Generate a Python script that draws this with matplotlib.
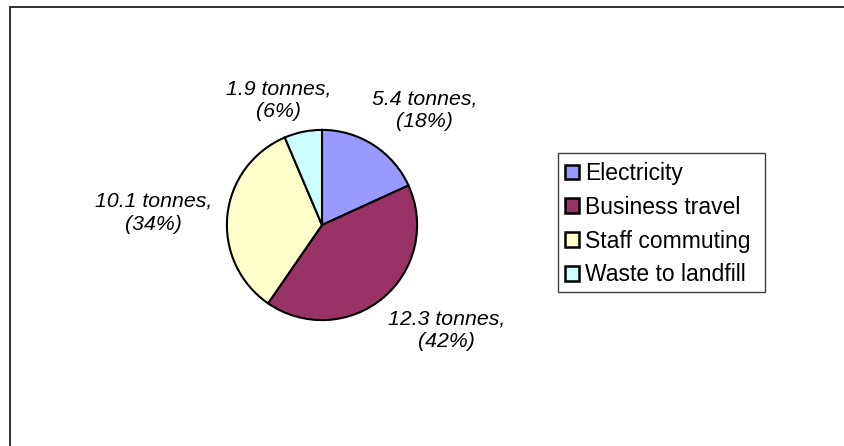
import matplotlib
matplotlib.use('Agg')
import matplotlib.pyplot as plt
from matplotlib.patches import Rectangle

# dades (tones de CO2)
categories = ['Electricity', 'Business travel', 'Staff commuting', 'Waste to landfill']
tonnes = [5.4, 12.3, 10.1, 1.9]
percents = [18, 42, 34, 6]
colors = ['#9999FF', '#993366', '#FFFFCC', '#CCFFFF']

# posicio de les etiquetes (unitats del radi del pastis)
label_pos = [(1.08, 1.21), (1.31, -1.11), (-1.77, 0.13), (-0.46, 1.31)]

W, H = 844, 446
fig = plt.figure(figsize=(W / 100, H / 100), dpi=100)
plt.rcParams['font.family'] = ['Liberation Sans', 'DejaVu Sans']

def px_box(x0, y0, x1, y1, **kw):
    # rectangle en pixels (origen a dalt a l'esquerra)
    return Rectangle((x0 / W, 1 - y1 / H), (x1 - x0) / W, (y1 - y0) / H,
                     transform=fig.transFigure, fill=False, **kw)

# marc del grafic (talla per la dreta i per baix)
fig.patches.append(px_box(9.5, 7, 900, 500, edgecolor='#202020', linewidth=1.3))
# marc de la llegenda
fig.patches.append(px_box(558, 153, 765, 292, edgecolor='#404040', linewidth=1.0))

cx, cy, r = 322, 225, 97
ax = fig.add_axes([(cx - r) / W, 1 - (cy + r) / H, 2 * r / W, 2 * r / H])
wedges, _ = ax.pie(tonnes, colors=colors, startangle=90, counterclock=False,
                   radius=1, wedgeprops=dict(edgecolor='black', linewidth=1.5))
ax.set_xlim(-1.02, 1.02)
ax.set_ylim(-1.02, 1.02)
ax.set_aspect('equal')
ax.axis('off')

for (x, y), t, p in zip(label_pos, tonnes, percents):
    ax.text(x, y, '%s tonnes,\n(%d%%)' % (t, p), ha='center', va='center',
            fontsize=15.3, style='italic', linespacing=1.25, clip_on=False)

leg = fig.legend(wedges, categories, loc='upper left',
                 bbox_to_anchor=(565 / W, 1 - 162 / H), bbox_transform=fig.transFigure,
                 fontsize=16.5, frameon=False, borderaxespad=0,
                 handlelength=0.62, handleheight=0.62, handletextpad=0.25,
                 labelspacing=0.47, borderpad=0)
for h in leg.legend_handles:
    h.set_edgecolor('black')
    h.set_linewidth(1.8)

fig.savefig('out.png', dpi=100)
